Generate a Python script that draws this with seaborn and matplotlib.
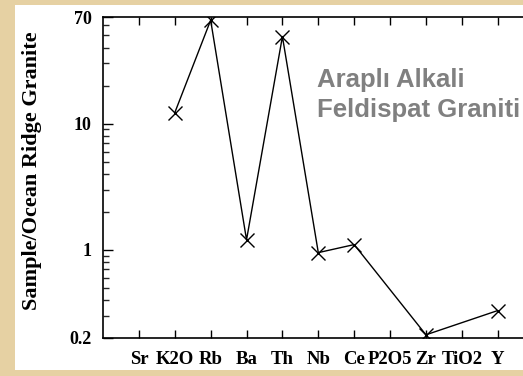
import numpy as np
import pandas as pd
import matplotlib
matplotlib.use("Agg")
import matplotlib.pyplot as plt
import matplotlib.ticker as mticker
from matplotlib.patches import Rectangle
import seaborn as sns

# ---- data ----
elements = ["Sr", "K2O", "Rb", "Ba", "Th", "Nb", "Ce", "P2O5", "Zr", "TiO2", "Y"]
values = [np.nan, 12.2, 66.0, 1.2, 49.0, 0.95, 1.10, np.nan, 0.212, np.nan, 0.33]
ytick_vals = [0.2, 1, 10, 70]
ytick_labels = ["0.2", "1", "10", "70"]
title_lines = ["Araplı Alkali", "Feldispat Graniti"]
ylabel = "Sample/Ocean Ridge Granite"

df = pd.DataFrame({"element": elements, "pos": np.arange(len(elements)), "value": values})
df_valid = df.dropna()

sns.set_theme(style="white")
plt.rcParams["font.family"] = ["Liberation Serif", "DejaVu Serif"]

W, H = 523, 376
fig = plt.figure(figsize=(W / 100, H / 100), dpi=100)
fig.patch.set_facecolor("#E6D1A3")

# white panel
fig.patches.append(Rectangle((15 / W, 1 - 370 / H), 1.0, (370 - 5) / H,
                             transform=fig.transFigure, facecolor="white",
                             edgecolor="none", zorder=-5))

ax = fig.add_axes([103 / W, 1 - 338 / H, (533.6 - 103) / W, (338 - 17) / H])
ax.set_zorder(2)
ax.set_facecolor("white")

sns.lineplot(data=df_valid, x="pos", y="value", ax=ax, color="black",
             linewidth=1.0, marker="x", markersize=10,
             markeredgecolor="black", markeredgewidth=1.0, sort=True)

ax.set_yscale("log")
ax.set_ylim(0.2, 70)
ax.set_xlim(-1, len(elements))

ax.yaxis.set_major_locator(mticker.FixedLocator(ytick_vals))
ax.yaxis.set_major_formatter(mticker.FixedFormatter(ytick_labels))
ax.yaxis.set_minor_locator(mticker.LogLocator(base=10, subs=np.arange(2, 10)))
ax.yaxis.set_minor_formatter(mticker.NullFormatter())

ax.set_xticks(df["pos"].to_numpy())
ax.set_xticklabels(elements)

for side in ["left", "bottom", "top"]:
    ax.spines[side].set_visible(True)
    ax.spines[side].set_color("black")
    ax.spines[side].set_linewidth(1.2)
ax.spines["right"].set_visible(False)

ax.tick_params(axis="y", which="major", direction="in", length=7.5, width=1.0,
               left=True, right=False, pad=8, labelsize=13, colors="black")
ax.tick_params(axis="y", which="minor", direction="in", length=4.3, width=1.0,
               left=True, right=False)
ax.tick_params(axis="x", which="major", direction="in", length=6, width=1.0,
               bottom=True, top=True, pad=9, labelsize=13.5, colors="black")
for lab in ax.get_yticklabels() + ax.get_xticklabels():
    lab.set_fontweight("bold")

ax.set_xlabel("")
ax.set_ylabel("")
fig.text(32 / W, 1 - 171 / H, ylabel, rotation=90, ha="center", va="center",
         fontsize=16, fontweight="bold", color="black")

fig.text(317 / W, 1 - 86.7 / H, title_lines[0], ha="left", va="baseline",
         fontsize=18.5, fontweight="bold", color="#808080",
         family=["Liberation Sans", "DejaVu Sans"])
fig.text(317 / W, 1 - 116.7 / H, title_lines[1], ha="left", va="baseline",
         fontsize=18.5, fontweight="bold", color="#808080",
         family=["Liberation Sans", "DejaVu Sans"])

fig.savefig("out.png", dpi=100, facecolor=fig.get_facecolor())
